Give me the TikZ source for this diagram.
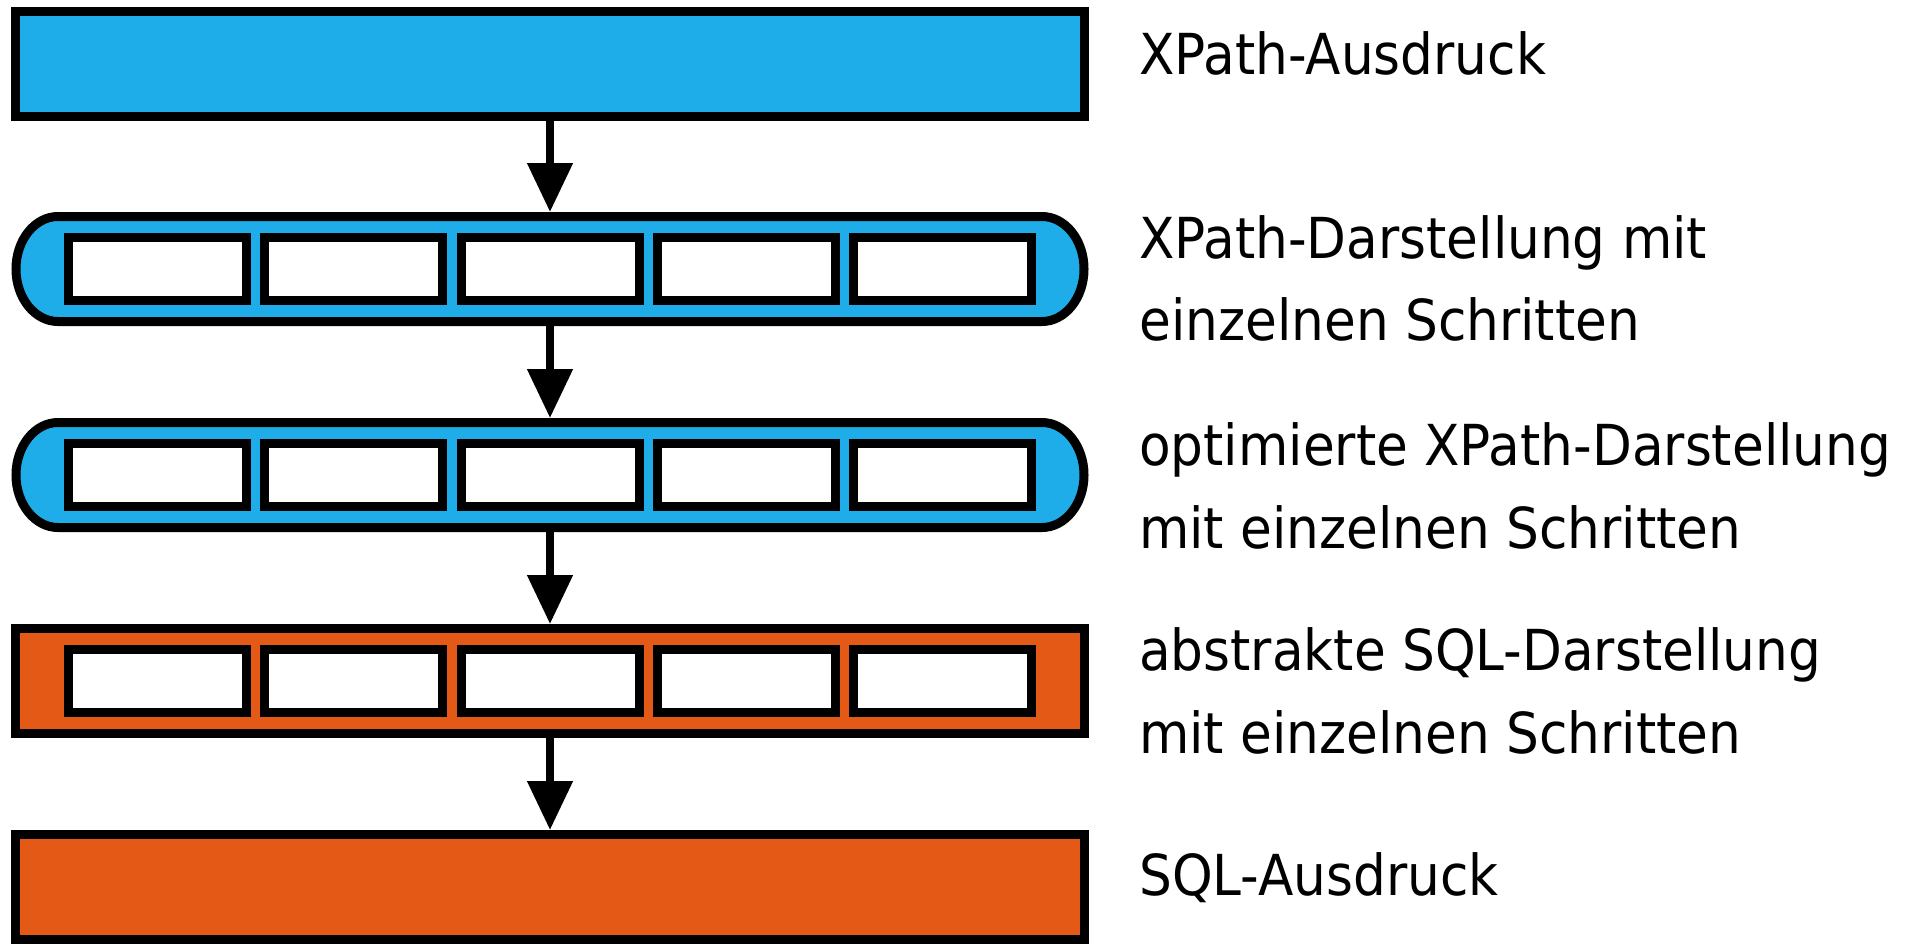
\documentclass[tikz,border=0pt]{standalone}
\usepackage{fontspec}
\setmainfont{DejaVu Sans}[FakeStretch=0.915]
\usetikzlibrary{arrows.meta}
\definecolor{xblue}{RGB}{31,173,234}
\definecolor{xorange}{RGB}{229,89,22}
\begin{document}
\begin{tikzpicture}[x=1pt,y=-1pt,
  rowbox/.style={draw=black,line width=9pt,minimum width=1069pt,minimum height=105pt,inner sep=0pt},
  pillholder/.style={draw=none,minimum width=1077pt,minimum height=114pt,inner sep=0pt,outer sep=0pt},
  cell/.style={draw=black,fill=white,line width=9pt,minimum width=178pt,minimum height=63pt,inner sep=0pt},
  flow/.style={line width=8pt,-{Triangle[width=44pt,length=49pt]}},
  lbl/.style={anchor=base west,inner sep=0pt,font=\fontsize{56.5}{81}\selectfont}
]
\useasboundingbox (0,0) rectangle (1910,948);
% rows
\node[rowbox,fill=xblue] (r1) at (550,64) {};
\node[pillholder] (r2) at (550,269) {};
\node[pillholder] (r3) at (550,475) {};
\node[rowbox,fill=xorange] (r4) at (550,681) {};
\node[rowbox,fill=xorange] (r5) at (550,887) {};
% pills
\foreach \cy in {269,475}{
  \draw[line width=9pt,fill=xblue]
    (58,\cy-52.5) -- (1042,\cy-52.5)
    arc[start angle=-90,end angle=90,x radius=42,y radius=52.5]
    -- (58,\cy+52.5)
    arc[start angle=90,end angle=270,x radius=42,y radius=52.5]
    -- cycle;
}
% cells
\foreach \r/\cy in {2/269,3/475,4/681}{
  \foreach \k in {0,...,4}{
    \node[cell] (r\r c\k) at (157.5+\k*196.25,\cy) {};
  }
}
% arrows
\draw[flow] (r1) -- (r2);
\draw[flow] (r2) -- (r3);
\draw[flow] (r3) -- (r4);
\draw[flow] (r4) -- (r5);
% labels
\node[lbl] (t1) at (1139,74) {XPath-Ausdruck};
\node[lbl] (t2a) at (1139,258) {XPath-Darstellung mit};
\node[lbl] (t2b) at (1139,340) {einzelnen Schritten};
\node[lbl] (t3a) at (1139,465) {optimierte XPath-Darstellung};
\node[lbl] (t3b) at (1139,548) {mit einzelnen Schritten};
\node[lbl] (t4a) at (1139,670) {abstrakte SQL-Darstellung};
\node[lbl] (t4b) at (1139,753) {mit einzelnen Schritten};
\node[lbl] (t5) at (1139,895) {SQL-Ausdruck};
\end{tikzpicture}
\end{document}
